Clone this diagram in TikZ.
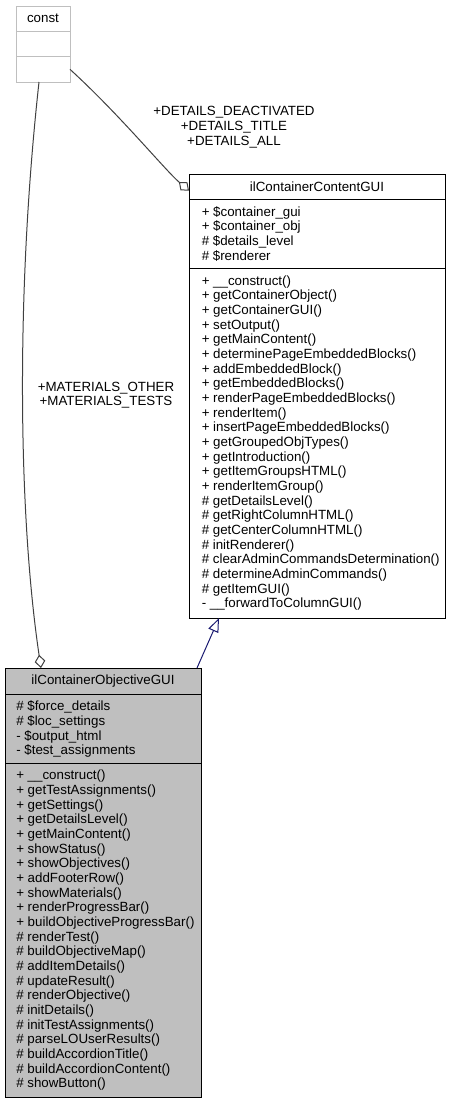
\documentclass[tikz,border=0pt]{standalone}
\usepackage{fontspec}
\setmainfont{Liberation Sans}
\usetikzlibrary{arrows.meta,calc}
\definecolor{edgeblue}{HTML}{191970}

\begin{document}
\begin{tikzpicture}[
    x=0.75pt, y=-0.75pt,
    compartment/.style={draw,line width=0.75pt,minimum height=19pt,inner sep=0pt,outer sep=0pt,anchor=north west,font=\fontsize{10}{11}\selectfont},
    ghost/.style={compartment,draw=black!25,minimum width=40.5pt},
    content/.style={compartment,minimum width=192pt},
    objective/.style={compartment,fill=black!25,minimum width=147pt},
    members/.style={anchor=north west,align=left,inner sep=0pt,font=\fontsize{10}{11}\selectfont,execute at begin node=\strut},
    rolelabel/.style={align=center,inner sep=0pt,font=\fontsize{10}{11}\selectfont},
    aggr/.style={draw=black!75,line width=0.75pt,-{Diamond[open,length=10pt,width=8pt]}},
    inherit/.style={draw=edgeblue,line width=0.75pt,-{Triangle[open,length=10.5pt,width=8pt]}},
]
\useasboundingbox (0,0) rectangle (449,1103);

% const components
\node[ghost] (constTitle) at (16,6) {const};
\node[ghost] (constAttr) at (constTitle.south west) {};
\node[ghost] (constBot) at (constAttr.south west) {};

% ilContainerContentGUI components
\node[content] (contentTitle) at (189,174) {ilContainerContentGUI};
\node[content,minimum height=52pt] (contentAttr) at (contentTitle.south west) {};
\node[content,minimum height=262pt] (contentMeth) at (contentAttr.south west) {};
\node[members] (contentAttrText) at ($(contentAttr.north west)+(12.5,6.7)$)
    {+ \$container\_gui\\+ \$container\_obj\\\# \$details\_level\\\# \$renderer};
\node[members] (contentMethText) at ($(contentMeth.north west)+(12.5,6.7)$)
    {+ \_\_construct()\\+ getContainerObject()\\+ getContainerGUI()\\+ setOutput()\\%
     + getMainContent()\\+ determinePageEmbeddedBlocks()\\+ addEmbeddedBlock()\\%
     + getEmbeddedBlocks()\\+ renderPageEmbeddedBlocks()\\+ renderItem()\\%
     + insertPageEmbeddedBlocks()\\+ getGroupedObjTypes()\\+ getIntroduction()\\%
     + getItemGroupsHTML()\\+ renderItemGroup()\\\# getDetailsLevel()\\%
     \# getRightColumnHTML()\\\# getCenterColumnHTML()\\\# initRenderer()\\%
     \# clearAdminCommandsDetermination()\\\# determineAdminCommands()\\%
     \# getItemGUI()\\- \_\_forwardToColumnGUI()};

% ilContainerObjectiveGUI components
\node[objective,minimum height=19.5pt] (objTitle) at (5,668) {ilContainerObjectiveGUI};
\node[objective,minimum height=52pt] (objAttr) at (objTitle.south west) {};
\node[objective,minimum height=250.5pt] (objMeth) at (objAttr.south west) {};
\node[members] (objAttrText) at ($(objAttr.north west)+(11,6.7)$)
    {\# \$force\_details\\\# \$loc\_settings\\- \$output\_html\\- \$test\_assignments};
\node[members] (objMethText) at ($(objMeth.north west)+(11,6.7)$)
    {+ \_\_construct()\\+ getTestAssignments()\\+ getSettings()\\+ getDetailsLevel()\\%
     + getMainContent()\\+ showStatus()\\+ showObjectives()\\+ addFooterRow()\\%
     + showMaterials()\\+ renderProgressBar()\\+ buildObjectiveProgressBar()\\%
     \# renderTest()\\\# buildObjectiveMap()\\\# addItemDetails()\\\# updateResult()\\%
     \# renderObjective()\\\# initDetails()\\\# initTestAssignments()\\%
     \# parseLOUserResults()\\\# buildAccordionTitle()\\\# buildAccordionContent()\\%
     \# showButton()};

% Labels
\node[rolelabel] (detailsLabel) at (234,127) {+DETAILS\_DEACTIVATED\\+DETAILS\_TITLE\\+DETAILS\_ALL};
\node[rolelabel] (materialsLabel) at (106,395) {+MATERIALS\_OTHER\\+MATERIALS\_TESTS};

% Connections
\draw[aggr] (constBot.east) .. controls (120,115) and (165,170) .. ($(contentTitle.west)+(0,4)$);
\draw[aggr] ($(constBot.south)+(-4,0)$) .. controls (15,300) and (19,520) .. ($(objTitle.north west)+(36,0)$);
\draw[inherit] ($(objTitle.north west)+(192,0)$) -- ($(contentMeth.south west)+(30,0)$);

\end{tikzpicture}
\end{document}
